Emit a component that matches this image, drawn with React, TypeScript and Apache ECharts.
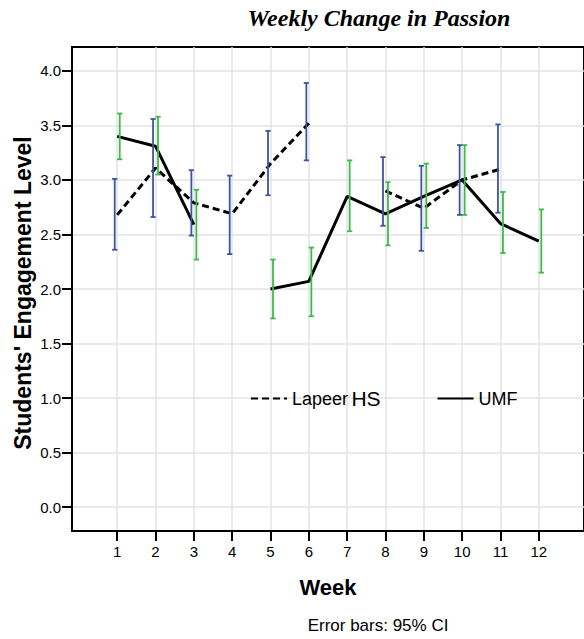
import React, { useEffect, useRef } from "react";
import * as echarts from "echarts";

const weeks = [1, 2, 3, 4, 5, 6, 7, 8, 9, 10, 11, 12];
const yTicks = [0, 0.5, 1, 1.5, 2, 2.5, 3, 3.5, 4];

const lapeerMean = [2.68, 3.11, 2.79, 2.69, 3.15, 3.52, null, 2.9, 2.74, 3.0, 3.1, null];
const lapeerLow = [2.36, 2.66, 2.49, 2.32, 2.86, 3.18, null, 2.58, 2.35, 2.68, 2.7, null];
const lapeerHigh = [3.01, 3.56, 3.09, 3.04, 3.45, 3.89, null, 3.21, 3.13, 3.32, 3.51, null];

const umfMean = [3.4, 3.31, 2.59, null, 2.0, 2.07, 2.85, 2.69, 2.85, 3.0, 2.6, 2.44];
const umfLow = [3.19, 3.05, 2.27, null, 1.73, 1.75, 2.53, 2.4, 2.56, 2.68, 2.33, 2.15];
const umfHigh = [3.61, 3.58, 2.91, null, 2.27, 2.38, 3.18, 2.98, 3.15, 3.32, 2.89, 2.73];

const BLUE = "#3b55a6";
const GREEN = "#3dba4b";

function errData(low: (number | null)[], high: (number | null)[]) {
  const out: number[][] = [];
  weeks.forEach((w, i) => {
    const lo = low[i];
    const hi = high[i];
    if (lo != null && hi != null) out.push([w, lo, hi]);
  });
  return out;
}

function makeRender(color: string, dx: number) {
  return (params: any, api: any) => {
    const x = api.value(0);
    const lo = api.coord([x, api.value(1)]);
    const hi = api.coord([x, api.value(2)]);
    const px = lo[0] + dx;
    const cap = 2.6;
    const style = { stroke: color, lineWidth: 1.8 };
    return {
      type: "group",
      children: [
        { type: "line", shape: { x1: px, y1: hi[1], x2: px, y2: lo[1] }, style },
        { type: "line", shape: { x1: px - cap, y1: hi[1], x2: px + cap, y2: hi[1] }, style },
        { type: "line", shape: { x1: px - cap, y1: lo[1], x2: px + cap, y2: lo[1] }, style },
      ],
    };
  };
}

export default function App() {
  const ref = useRef<HTMLDivElement>(null);
  useEffect(() => {
    if (!ref.current) return;
    const chart = echarts.init(ref.current, undefined, { renderer: "svg" });
    const font = "'Liberation Sans', Arial, sans-serif";
    chart.setOption({
      animation: false,
      backgroundColor: "#fff",
      textStyle: { fontFamily: font },
      grid: {
        left: 72,
        top: 47,
        width: 513,
        height: 484,
        show: true,
        borderColor: "#000",
        borderWidth: 2,
      },
      graphic: [
        {
          type: "text",
          x: 379,
          y: 18,
          style: {
            text: "Weekly Change in Passion",
            font: "italic bold 24px 'Liberation Serif', 'Times New Roman', serif",
            fill: "#000",
            textAlign: "center",
            textVerticalAlign: "middle",
          },
        },
        {
          type: "text",
          x: 23,
          y: 293,
          rotation: Math.PI / 2,
          style: {
            text: "Students' Engagement Level",
            font: "bold 23px 'Liberation Sans', Arial, sans-serif",
            fill: "#000",
            textAlign: "center",
            textVerticalAlign: "middle",
          },
        },
        {
          type: "text",
          x: 378,
          y: 625,
          style: {
            text: "Error bars: 95% CI",
            font: "17px 'Liberation Sans', Arial, sans-serif",
            fill: "#000",
            textAlign: "center",
            textVerticalAlign: "middle",
          },
        },
      ],
      legend: {
        left: 250,
        top: 388,
        padding: 0,
        itemWidth: 36,
        itemHeight: 14,
        itemGap: 56,
        itemStyle: { opacity: 0 },
        data: ["Lapeer HS", "UMF"],
        formatter: (name: string) =>
          name === "Lapeer HS" ? "{a|Lapeer} {b|HS}" : "{a|UMF}",
        textStyle: {
          color: "#000",
          rich: {
            a: { fontSize: 18, fontFamily: font, color: "#000" },
            b: { fontSize: 21, fontFamily: font, color: "#000" },
          },
        },
      },
      xAxis: {
        type: "value",
        min: -0.18,
        max: 13.18,
        name: "Week",
        nameLocation: "middle",
        nameGap: 45,
        nameTextStyle: { fontSize: 22, fontWeight: "bold", color: "#000", fontFamily: font },
        axisLine: { show: true, onZero: false, lineStyle: { color: "#000", width: 2 } },
        axisTick: {
          show: true,
          customValues: weeks,
          length: 10,
          lineStyle: { color: "#000", width: 2 },
        },
        axisLabel: {
          customValues: weeks,
          margin: 13,
          fontSize: 15,
          color: "#000",
          fontFamily: font,
        },
        splitLine: { show: true, lineStyle: { color: "#e3e3e3", width: 1.5 } },
      },
      yAxis: {
        type: "value",
        min: -0.22,
        max: 4.22,
        axisLine: { show: true, onZero: false, lineStyle: { color: "#000", width: 2 } },
        axisTick: {
          show: true,
          customValues: yTicks,
          length: 10,
          lineStyle: { color: "#000", width: 2 },
        },
        axisLabel: {
          customValues: yTicks,
          margin: 11,
          fontSize: 15,
          color: "#000",
          fontFamily: font,
          formatter: (v: number) => v.toFixed(1),
        },
        splitLine: { show: true, lineStyle: { color: "#e3e3e3", width: 1.5 } },
      },
      series: [
        {
          name: "Lapeer HS",
          type: "line",
          data: weeks.map((w, i) => [w, lapeerMean[i]]),
          symbol: "none",
          connectNulls: false,
          lineStyle: { color: "#000", width: 3, type: [7, 4] },
          itemStyle: { color: "#000" },
          z: 3,
        },
        {
          name: "UMF",
          type: "line",
          data: weeks.map((w, i) => [w, umfMean[i]]),
          symbol: "none",
          connectNulls: false,
          lineStyle: { color: "#000", width: 3 },
          itemStyle: { color: "#000" },
          z: 3,
        },
        {
          name: "Lapeer HS CI",
          type: "custom",
          data: errData(lapeerLow, lapeerHigh),
          renderItem: makeRender(BLUE, -2.5),
          encode: { x: 0, y: [1, 2] },
          z: 4,
        },
        {
          name: "UMF CI",
          type: "custom",
          data: errData(umfLow, umfHigh),
          renderItem: makeRender(GREEN, 2.5),
          encode: { x: 0, y: [1, 2] },
          z: 4,
        },
      ],
    });
    return () => chart.dispose();
  }, []);
  return (
    <div
      ref={ref}
      style={{ position: "fixed", left: 0, top: 0, width: 584, height: 639 }}
    />
  );
}
